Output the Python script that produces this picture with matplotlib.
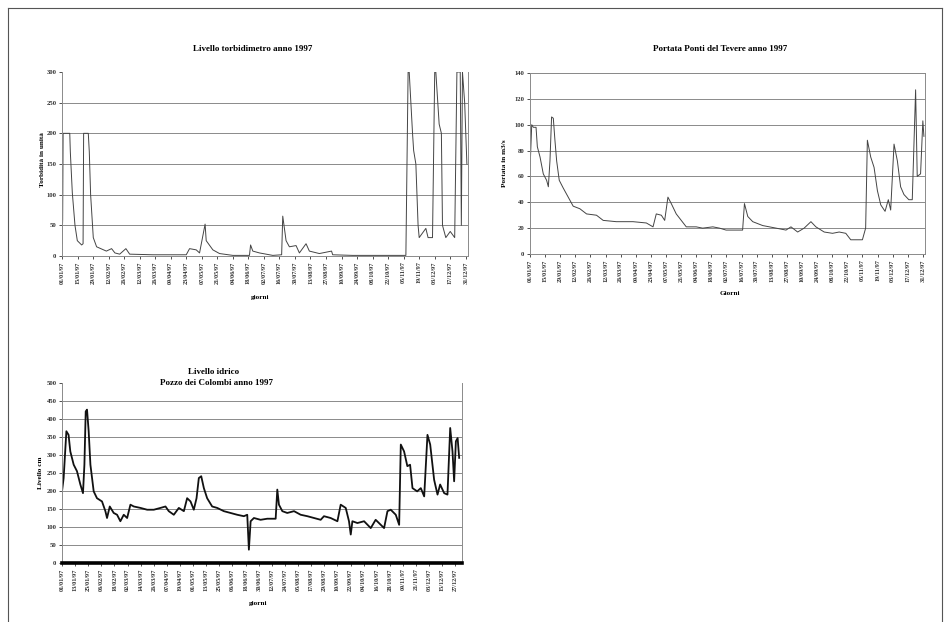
import numpy as np
import pandas as pd
import matplotlib
matplotlib.use("Agg")
import matplotlib.pyplot as plt
import matplotlib.dates as mdates
from matplotlib.lines import Line2D

plt.rcParams['font.family'] = ['Liberation Serif', 'DejaVu Serif']

START = pd.Timestamp('1997-01-01')

# --- Livello torbidimetro (giorno dall'inizio, valore)
torb_giorni = [0, 0.6, 1, 7, 7.5, 9.3, 11.7, 13.8, 17.7, 19, 19.5, 23.7, 24.6, 25.8,
               28.2, 31.2, 40, 44.7, 47.7, 52, 57.6, 61, 82, 100, 112, 115, 121, 124,
               129, 130, 136, 142, 154, 169, 170, 172, 178, 190, 198, 199, 202, 205,
               211, 214, 220, 223, 232, 243, 244, 262, 290, 310, 312, 313, 316, 317,
               319, 321, 322, 328, 330, 334, 336, 337, 340, 342, 343, 346, 350, 354,
               356, 359, 360, 361, 363, 364, 365]
torb_valori = [20, 60, 200, 200, 170, 103, 50, 25, 18, 20, 200, 200, 170, 100,
               30, 15, 8, 12, 5, 3, 12, 3, 2, 2, 2, 12, 10, 5,
               52, 25, 10, 4, 1, 1, 18, 8, 5, 1, 2, 65, 25, 15,
               17, 5, 20, 8, 4, 8, 2, 1, 1, 1, 300, 300, 200, 172,
               150, 50, 30, 45, 30, 30, 300, 300, 215, 200, 50, 30, 40, 30,
               300, 300, 50, 300, 250, 200, 150]

# --- Portata Ponti del Tevere
port_giorni = [0, 1.6, 3.1, 5.6, 6.8, 9.3, 12.3, 15.4, 17, 18.5, 20, 21.6, 23.1, 24.7,
               27.1, 30.8, 35.4, 40, 46.2, 52.4, 61.6, 67.8, 80, 95.5, 107.8, 114, 117,
               121.7, 124.8, 127.8, 130.9, 135.5, 144.8, 154, 160, 169.4, 175.6, 181.7,
               197, 198.7, 201.8, 206.4, 215.6, 228, 237.2, 241.8, 248, 254, 260.3, 264.9,
               272.6, 280.3, 286.5, 292.6, 297.2, 308, 311, 312.6, 315.7, 318.8, 321.9,
               325, 329, 332, 334.2, 337.3, 340.4, 343.4, 346.5, 351, 354.2, 357.3, 358.8,
               361.9, 364, 365]
port_valori = [65, 100, 98, 98, 83, 75, 62, 57, 52, 72, 106, 105, 88, 72,
               57, 51, 44, 37, 35, 31, 30, 26, 25, 25, 24, 21, 31,
               30, 26, 44, 39, 31, 21, 21, 20, 21, 20, 18.5,
               18.5, 39, 29, 25, 22, 20, 18.5, 21, 17, 20, 25, 21,
               17, 16, 17, 16, 11, 11, 20, 88, 75, 67, 49,
               38, 33, 42, 34, 85, 72, 52, 46, 42, 42, 127, 60,
               62, 103, 91]

# --- Livello idrico Pozzo dei Colombi
pozzo_giorni = [0, 1.5, 4, 6, 7.6, 10.7, 13.7, 16.8, 19.2, 20.5, 21.7, 22.9, 24.4, 26,
                29, 32, 36.6, 39.7, 41.2, 43.7, 47.3, 50.4, 53.4, 56.5, 59.6, 62.6, 65.7,
                71.8, 77.9, 84, 90.1, 94.7, 97.7, 102.3, 106.9, 111.5, 114.5, 117.6, 120.6,
                123.1, 125.2, 127.4, 129.8, 132.8, 137.4, 142, 148.1, 154.2, 160.3, 166.4,
                169.5, 171, 172.6, 175.6, 181.7, 187.8, 195.5, 197, 198.5, 201.6, 206.1,
                212.3, 218.4, 224.5, 230.6, 236.7, 239.7, 245.8, 252, 255, 259.6, 262.6,
                264.2, 265.7, 270.3, 276.4, 282.5, 287, 291.7, 294.7, 297.8, 300.8, 305.4,
                308.5, 310, 313, 316, 318.5, 320.7, 325, 328.3, 331.4, 334.4, 336.9, 340.5,
                343.6, 346, 349.7, 352.7, 355.2, 357.3, 358.8, 360.4, 362, 363.4]
pozzo_valori = [199, 236, 366, 356, 310, 273, 255, 218, 194, 273, 421, 426, 366, 273,
                199, 180, 171, 144, 125, 157, 139, 134, 116, 134, 125, 162, 157,
                153, 148, 148, 153, 157, 144, 134, 153, 144, 180, 171, 148,
                180, 236, 241, 208, 180, 157, 153, 144, 139, 134, 130,
                134, 37, 116, 125, 120, 123, 123, 204, 162, 144, 139,
                144, 134, 130, 125, 120, 130, 125, 116, 162, 153, 116,
                79, 116, 111, 116, 97, 120, 106, 97, 144, 148, 134,
                106, 329, 310, 269, 273, 208, 199, 208, 185, 356, 329, 231,
                190, 218, 194, 190, 375, 310, 227, 338, 347, 292]

W, H = 950, 622
fig = plt.figure(figsize=(W / 100, H / 100), dpi=100)


def px_axes(left, top, right, bottom):
    return fig.add_axes([left / W, 1 - bottom / H, (right - left) / W, (bottom - top) / H])


def style(ax, giorni, valori, ymax, ystep, tick_step, xmax, lw, color, top_spine):
    x = START + pd.to_timedelta(giorni, unit='D')
    ax.plot(x, valori, color=color, lw=lw, clip_on=True)
    ax.set_ylim(0, ymax)
    ax.set_xlim(START, START + pd.Timedelta(days=xmax))
    ax.set_yticks(np.arange(0, ymax + 1, ystep))
    ax.yaxis.grid(True, color='#8a8a8a', lw=0.7)
    if not top_spine:
        ax.yaxis.get_gridlines()[-1].set_visible(False)
    ax.set_axisbelow(True)
    tick_days = np.arange(0, xmax, tick_step)
    ax.set_xticks(START + pd.to_timedelta(tick_days, unit='D'))
    ax.xaxis.set_major_formatter(mdates.DateFormatter('%d/%m/%y'))
    ax.tick_params(axis='x', labelrotation=90, labelsize=4.5, length=2, width=0.6,
                   colors='#333333', pad=2)
    ax.tick_params(axis='y', labelsize=4.8, length=2, width=0.6, colors='#333333', pad=2)
    for t in ax.get_xticklabels() + ax.get_yticklabels():
        t.set_fontweight('bold')
    for s in ax.spines.values():
        s.set_color('#8a8a8a')
        s.set_linewidth(0.7)
    ax.spines['top'].set_visible(top_spine)


# grafico 1
ax1 = px_axes(62, 72, 468, 256)
style(ax1, torb_giorni, torb_valori, 300, 50, 14, 366, 0.7, '#444444', False)
fig.text(253 / W, 1 - 49 / H, 'Livello torbidimetro anno 1997', ha='center', va='center',
         fontsize=6.5, fontweight='bold')
fig.text(42 / W, 1 - 160 / H, 'Torbidità in unità', rotation=90, ha='center', va='center',
         fontsize=5.2, fontweight='bold')
fig.text(260 / W, 1 - 297 / H, 'giorni', ha='center', va='center', fontsize=5.2, fontweight='bold')

# grafico 2
ax2 = px_axes(530, 73, 925, 254)
style(ax2, port_giorni, port_valori, 140, 20, 14, 366, 0.7, '#444444', True)
fig.text(720 / W, 1 - 49 / H, 'Portata Ponti del Tevere anno 1997', ha='center', va='center',
         fontsize=6.5, fontweight='bold')
fig.text(505 / W, 1 - 163 / H, 'Portata in m3/s', rotation=90, ha='center', va='center',
         fontsize=5.2, fontweight='bold')
fig.text(730 / W, 1 - 293 / H, 'Giorni', ha='center', va='center', fontsize=5.2, fontweight='bold')

# grafico 3
ax3 = px_axes(62, 383, 462, 563)
style(ax3, pozzo_giorni, pozzo_valori, 500, 50, 12, 366, 1.3, '#111111', False)
ax3.spines['bottom'].set_color('black')
ax3.spines['bottom'].set_linewidth(2.6)
fig.text(214 / W, 1 - 372 / H, 'Livello idrico', ha='center', va='center',
         fontsize=6.5, fontweight='bold')
fig.text(216 / W, 1 - 383 / H, 'Pozzo dei Colombi anno 1997', ha='center', va='center',
         fontsize=6.5, fontweight='bold')
fig.text(40 / W, 1 - 473 / H, 'Livello cm', rotation=90, ha='center', va='center',
         fontsize=5.2, fontweight='bold')
fig.text(258 / W, 1 - 603 / H, 'giorni', ha='center', va='center', fontsize=5.2, fontweight='bold')

# cornice esterna
for xs, ys in [([8, 8], [8, 622]), ([8, 942], [8, 8]), ([942, 942], [8, 622])]:
    fig.add_artist(Line2D([v / W for v in xs], [1 - v / H for v in ys], color='#555555', lw=0.8))

fig.savefig('out.png', dpi=100)
